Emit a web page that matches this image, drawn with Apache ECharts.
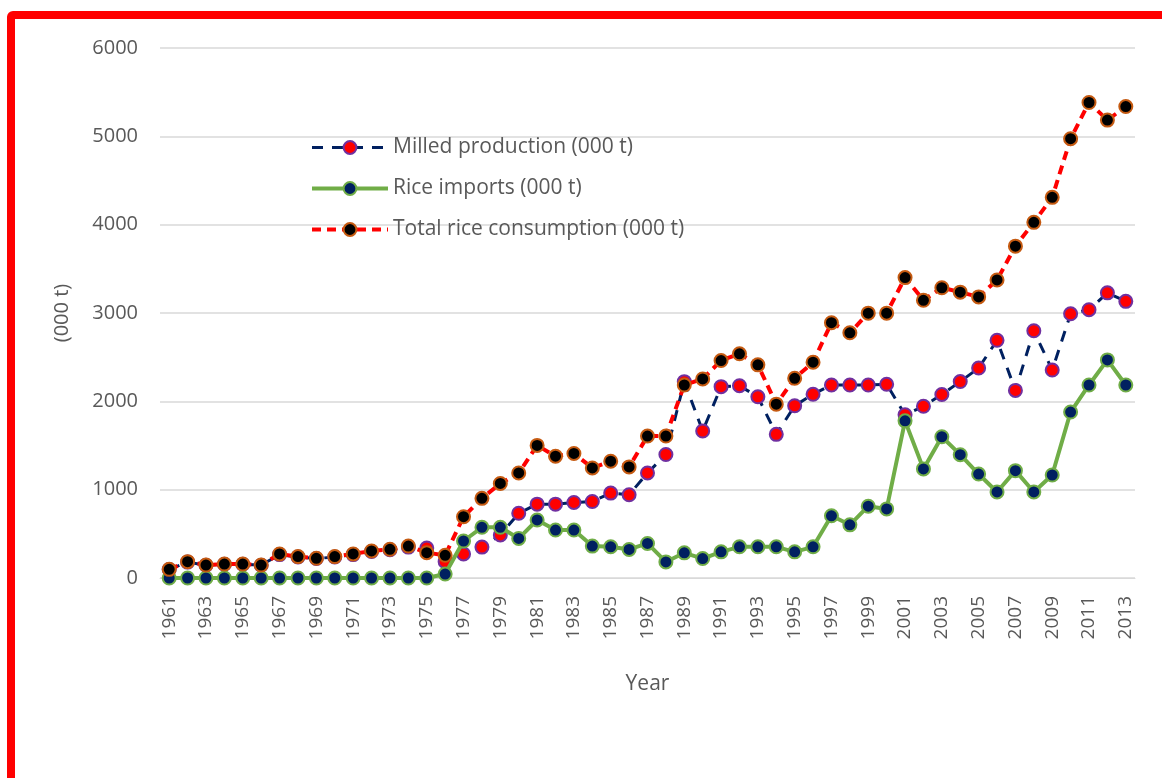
<!DOCTYPE html>
<html>
<head>
<meta charset="utf-8">
<title>Rice production, imports and consumption</title>
<script src="https://cdn.jsdelivr.net/npm/echarts@6/dist/echarts.min.js"></script>
<style>
    html, body {
        margin: 0;
        padding: 0;
        width: 1162px;
        height: 778px;
        overflow: hidden;
        background: #fff;
    }
    .frame {
        position: absolute;
        left: 7px;
        top: 11px;
        width: 1200px;
        height: 820px;
        border: 8px solid #ff0000;
        border-radius: 6px;
        box-sizing: border-box;
    }
    #chart {
        position: absolute;
        left: 0;
        top: 0;
        width: 1162px;
        height: 778px;
    }
</style>
</head>
<body>
<div class="frame"></div>
<div id="chart"></div>
<script>
// data (000 t)
var years = [
    "1961", "1962", "1963", "1964", "1965", "1966", "1967", "1968", "1969", "1970",
    "1971", "1972", "1973", "1974", "1975", "1976", "1977", "1978", "1979", "1980",
    "1981", "1982", "1983", "1984", "1985", "1986", "1987", "1988", "1989", "1990",
    "1991", "1992", "1993", "1994", "1995", "1996", "1997", "1998", "1999", "2000",
    "2001", "2002", "2003", "2004", "2005", "2006", "2007", "2008", "2009", "2010",
    "2011", "2012", "2013"
];

var milledProduction = [
    95, 180, 145, 155, 155, 145, 265, 238, 220, 238,
    265, 300, 320, 350, 340, 185, 272, 350, 487, 733,
    836, 836, 855, 866, 961, 942, 1189, 1398, 2223, 1664,
    2166, 2177, 2052, 1626, 1950, 2080, 2185, 2185, 2185, 2193,
    1848, 1944, 2078, 2224, 2377, 2691, 2124, 2799, 2354, 2991,
    3037, 3228, 3132
];

var riceImports = [
    0, 0, 0, 0, 0, 0, 0, 0, 0, 0,
    0, 0, 0, 0, 0, 45, 419, 574, 574, 448,
    657, 543, 543, 361, 353, 323, 391, 182, 285, 220,
    296, 353, 353, 353, 296, 353, 704, 602, 813, 782,
    1779, 1235, 1599, 1396, 1177, 974, 1215, 974, 1166, 1879,
    2185, 2469, 2185
];

var totalConsumption = [
    98, 185, 147, 158, 158, 147, 272, 242, 223, 242,
    272, 306, 325, 362, 287, 257, 694, 902, 1070, 1189,
    1501, 1379, 1410, 1246, 1322, 1258, 1607, 1607, 2185, 2253,
    2462, 2538, 2413, 1968, 2261, 2443, 2890, 2776, 2998, 2998,
    3401, 3144, 3286, 3236, 3182, 3374, 3757, 4026, 4309, 4973,
    5383, 5184, 5337
];

var seriesNames = [
    "Milled production (000 t)",
    "Rice imports (000 t)",
    "Total rice consumption (000 t)"
];

var textColor = "#595959";
var fontName = "Open Sans";

var chart = echarts.init(document.getElementById("chart"));

var option = {
    animation: false,
    textStyle: {
        fontFamily: fontName
    },
    grid: {
        left: 160,
        right: 27,
        top: 48,
        bottom: 200
    },
    legend: {
        orient: "vertical",
        left: 305,
        top: 132,
        itemWidth: 76,
        itemHeight: 16,
        itemGap: 20,
        textStyle: {
            color: textColor,
            fontSize: 21,
            fontFamily: fontName
        },
        data: [
            { name: seriesNames[0], lineStyle: { width: 3 } },
            { name: seriesNames[1], lineStyle: { width: 4 } },
            { name: seriesNames[2], lineStyle: { width: 4 } }
        ]
    },
    xAxis: {
        type: "category",
        data: years,
        name: "Year",
        nameLocation: "middle",
        nameGap: 96,
        nameTextStyle: {
            color: textColor,
            fontSize: 21
        },
        axisLine: {
            lineStyle: {
                color: "#d9d9d9",
                width: 1
            }
        },
        axisTick: {
            show: false
        },
        axisLabel: {
            interval: 1,
            rotate: 90,
            margin: 18,
            color: textColor,
            fontSize: 19
        }
    },
    yAxis: {
        type: "value",
        min: 0,
        max: 6000,
        interval: 1000,
        name: "(000 t)",
        nameLocation: "middle",
        nameGap: 88,
        nameTextStyle: {
            color: textColor,
            fontSize: 20
        },
        axisLabel: {
            color: textColor,
            fontSize: 20,
            margin: 22,
            formatter: function (v) {
                return String(v);
            }
        },
        splitLine: {
            lineStyle: {
                color: "#d9d9d9",
                width: 1.5
            }
        }
    },
    series: [
        {
            name: seriesNames[0],
            type: "line",
            data: milledProduction,
            symbol: "circle",
            symbolSize: 13,
            showAllSymbol: true,
            lineStyle: {
                color: "#002060",
                width: 3,
                type: [11, 9]
            },
            itemStyle: {
                color: "#ff0000",
                borderColor: "#7030a0",
                borderWidth: 2
            },
            z: 2
        },
        {
            name: seriesNames[1],
            type: "line",
            data: riceImports,
            symbol: "circle",
            symbolSize: 13,
            showAllSymbol: true,
            lineStyle: {
                color: "#70ad47",
                width: 4
            },
            itemStyle: {
                color: "#002060",
                borderColor: "#70ad47",
                borderWidth: 2
            },
            z: 3
        },
        {
            name: seriesNames[2],
            type: "line",
            data: totalConsumption,
            symbol: "circle",
            symbolSize: 13,
            showAllSymbol: true,
            lineStyle: {
                color: "#ff0000",
                width: 4,
                type: [9, 6]
            },
            itemStyle: {
                color: "#000000",
                borderColor: "#c55a11",
                borderWidth: 2
            },
            z: 4
        }
    ]
};

chart.setOption(option);
</script>
</body>
</html>
